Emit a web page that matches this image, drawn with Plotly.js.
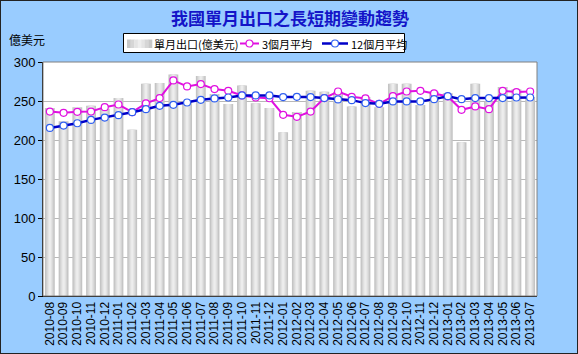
<!DOCTYPE html>
<html>
<head>
<meta charset="utf-8">
<script src="https://cdn.plot.ly/plotly-3.0.1.min.js"></script>
<style>
html,body{margin:0;padding:0;background:#99CCFF;}
#chart{width:578px;height:354px;}
#frame{position:absolute;left:0;top:0;width:578px;height:354px;box-sizing:border-box;border:1px solid #222;pointer-events:none;}
</style>
</head>
<body>
<div id="chart"></div>
<div id="frame"></div>
<script>
const months = ["2010-08","2010-09","2010-10","2010-11","2010-12","2011-01","2011-02","2011-03","2011-04","2011-05","2011-06","2011-07",
"2011-08","2011-09","2011-10","2011-11","2011-12","2012-01","2012-02","2012-03","2012-04","2012-05","2012-06","2012-07",
"2012-08","2012-09","2012-10","2012-11","2012-12","2013-01","2013-02","2013-03","2013-04","2013-05","2013-06","2013-07"];
const monthlyExports = [241,224,242,244,240,254,213,272,273,284,249,282,
259,246,270,247,241,210,236,263,262,262,243,255,
242,272,272,245,262,260,197,272,249,268,265,255];
const avg3 = [236.5,234.8,236.1,236.5,242.1,245.5,235.7,247.0,253.7,276.4,268.7,271.7,
265.3,263.1,257.1,254.5,253.5,232.3,229.7,236.5,253.7,262.2,255.4,253.3,
246.4,256.2,262.2,263.1,259.7,255.8,238.7,243.0,239.5,263.1,261.4,262.2];
const avg12 = [215.5,218.5,221.5,225.8,228.8,231.8,235.7,239.5,243.8,245.1,248.1,251.5,
253.3,254.5,257.1,257.1,257.1,255.0,255.4,255.0,253.7,252.0,251.1,247.3,
246.4,249.4,249.4,249.4,252.4,256.2,252.4,253.7,253.7,253.7,254.5,254.5];
const yTicks = [0,50,100,150,200,250,300];
const seriesNames = ['單月出口(億美元)','3個月平均','12個月平均'];

const FONT = "Liberation Sans, Arial, 'Noto Sans CJK TC', sans-serif";
const CJK = "'Noto Sans CJK TC', 'Liberation Sans', sans-serif";
const MAG = '#E010E0', BLUE = '#0000C8', BLUE_M = '#3060F0';

// plot area geometry (px)
const L = 43, T = 62, W = 494, H = 234;
const px = x => (x - L) / W;
const py = y => (T + H - y) / H;

const barShades = [['#C4C4C4',0.72],['#D4D4D4',0.52],['#E2E2E2',0.34],['#EDEDED',0.16]];
const traces = barShades.map((s,i) => ({
  type:'bar', x:months, y:monthlyExports, width:s[1], name:seriesNames[0], showlegend:false,
  marker:{color:s[0], line:{width:0}}
}));
traces.push(
  {type:'scatter', mode:'lines+markers', x:months, y:avg3, name:seriesNames[1], showlegend:false,
   line:{color:MAG, width:2},
   marker:{symbol:'circle', size:7, color:'#FFFFFF', line:{color:MAG, width:1.2}}},
  {type:'scatter', mode:'lines+markers', x:months, y:avg12, name:seriesNames[2], showlegend:false,
   line:{color:BLUE, width:2.5},
   marker:{symbol:'circle', size:7, color:'#FFFFFF', line:{color:BLUE_M, width:1.2}}}
);

// custom legend (matching original compact legend box)
const shapes = [
  {type:'rect', xref:'paper', yref:'paper', x0:0, x1:1, y0:0, y1:1,
   line:{color:'#808080', width:1}, fillcolor:'rgba(0,0,0,0)', layer:'above'},
  {type:'rect', xref:'paper', yref:'paper', x0:px(123.5), x1:px(404.5), y0:py(52.5), y1:py(33.5),
   line:{color:'#000', width:1}, fillcolor:'#FFFFFF'}
];
const swCols = ['#C8C8C8','#D6D6D6','#E4E4E4','#EEEEEE','#E4E4E4','#D6D6D6','#C8C8C8'];
const swX0 = 127, swW = 25/swCols.length;
swCols.forEach((c,i) => shapes.push({type:'rect', xref:'paper', yref:'paper',
  x0:px(swX0 + i*swW), x1:px(swX0 + (i+1)*swW + 0.3), y0:py(48), y1:py(39.5),
  line:{width:0}, fillcolor:c}));
function legLine(x0, x1, color, mcolor, w){
  const yc = py(43.5);
  shapes.push({type:'line', xref:'paper', yref:'paper', x0:px(x0), x1:px(x1), y0:yc, y1:yc,
               line:{color:color, width:w}});
  shapes.push({type:'circle', xref:'paper', yref:'paper', xsizemode:'pixel', ysizemode:'pixel',
               xanchor:px((x0+x1)/2), yanchor:yc, x0:-3.5, x1:3.5, y0:-3.5, y1:3.5,
               line:{color:mcolor, width:1.2}, fillcolor:'#FFFFFF'});
}
legLine(240, 259, MAG, MAG, 2);
legLine(322, 348, BLUE, BLUE_M, 2.5);

const legText = (t, x) => ({text:t, xref:'paper', yref:'paper', x:px(x), y:py(43.5),
  xanchor:'left', yanchor:'middle', showarrow:false, font:{family:CJK, size:11, color:'#000'}});

const layout = {
  width:578, height:354,
  paper_bgcolor:'#99CCFF', plot_bgcolor:'#FFFFFF',
  margin:{l:L, r:578-L-W, t:T, b:354-T-H},
  barmode:'overlay',
  showlegend:false,
  font:{family:FONT, size:12, color:'#000'},
  title:{text:'我國單月出口之長短期變動趨勢', x:0.5, xref:'paper', y:0.945, yref:'container',
         xanchor:'center', yanchor:'middle',
         font:{family:CJK, size:17, color:'#1414C8', weight:'bold'}},
  xaxis:{type:'category', tickmode:'linear', tick0:0, dtick:1, tickangle:-90,
         tickfont:{family:FONT, size:12},
         showline:true, linecolor:'#000', linewidth:1, ticks:'', showgrid:false,
         range:[-0.5, months.length-0.5], fixedrange:true},
  yaxis:{range:[0,300], tickvals:yTicks, ticktext:yTicks.map(String),
         tickfont:{family:FONT, size:13}, showline:true, linecolor:'#000', linewidth:1,
         ticks:'outside', ticklen:4, tickcolor:'#000',
         showgrid:true, gridcolor:'#B8B8B8', gridwidth:1, zeroline:false, fixedrange:true},
  shapes:shapes,
  annotations:[
    {text:'億美元', xref:'paper', yref:'paper', x:px(7), y:py(40), xanchor:'left', yanchor:'middle',
     showarrow:false, font:{family:CJK, size:12, color:'#000'}},
    legText(seriesNames[0], 152),
    legText(seriesNames[1], 260),
    legText(seriesNames[2], 349)
  ]
};

Plotly.newPlot('chart', traces, layout, {displayModeBar:false, staticPlot:true});
</script>
</body>
</html>
